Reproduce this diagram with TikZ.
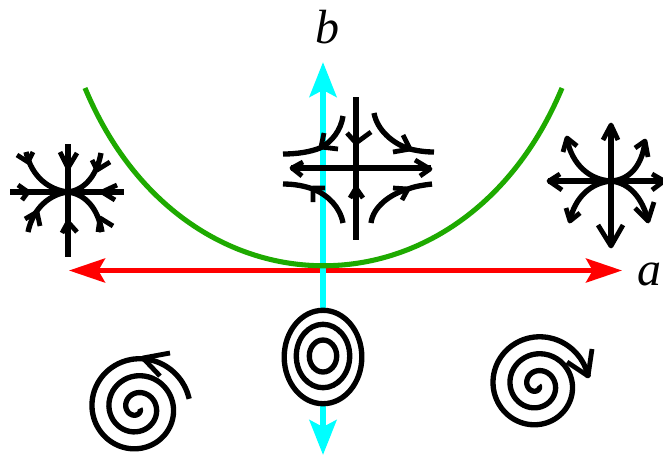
\documentclass[tikz,border=0pt]{standalone}
\usepackage{fontspec}
\setmainfont{Liberation Serif}
\usetikzlibrary{arrows.meta}
\definecolor{axisred}{RGB}{255,0,0}
\definecolor{axiscyan}{RGB}{0,255,255}
\definecolor{curvegreen}{RGB}{30,170,0}
\tikzset{
  traj/.style={line width=4pt,black,line cap=butt},
  headbarb/.style={line width=3.6pt,black,line cap=butt,line join=round},
  axislabel/.style={font=\itshape\fontsize{36}{36}\selectfont,inner sep=0pt,anchor=base},
}
\begin{document}
\begin{tikzpicture}[x=0.75pt,y=-0.75pt]
\useasboundingbox (0,0) rectangle (663,455);
% axes and the curve, in pixel coordinates of the reference
\draw[line width=3.6pt,axisred,{Stealth[length=27pt,width=18pt,inset=5pt]}-{Stealth[length=27pt,width=18pt,inset=5pt]}] (69,270.5) -- (622,270.5);
\draw[line width=5pt,axiscyan,{Stealth[length=26pt,width=20pt,inset=5pt]}-{Stealth[length=26pt,width=20pt,inset=5pt]}] (323,62) -- (323,455);
\draw[line width=3.8pt,curvegreen] (85,88) .. controls (183.5,325) and (463.5,325) .. (562,88);
\node[axislabel] (labelb) at (327,43.5) {b};
\node[axislabel] (labela) at (649,285) {a};
% left star
\draw[traj] (10,192) -- (124,192) (68,144) -- (68,257);
\draw[traj] (68,192) .. controls (50,190) and (32,178) .. (26,152);
\draw[traj] (68,192) .. controls (85,190) and (97,175) .. (101,153);
\draw[traj] (68,192) .. controls (50,194) and (33,208) .. (28,232);
\draw[traj] (68,192) .. controls (85,194) and (98,208) .. (102,232);
\draw[headbarb] (18,185) -- (28,192) -- (22,200) (117,185) -- (102,192) -- (115,200);
\draw[headbarb] (60,152) -- (68,168) -- (77,153) (62,233) -- (68,222) -- (77,232);
\draw[headbarb] (17,155) -- (28,162) -- (33,152) (110,162) -- (97,170) -- (92,160);
\draw[headbarb] (25,219) -- (37,212) -- (40,226) (113,226) -- (100,218) -- (98,232);
% right star
\draw[traj] (548,181) -- (663,181) (611,127) -- (611,246);
\draw[traj] (611,181) .. controls (590,180) and (572,165) .. (567,139);
\draw[traj] (611,181) .. controls (630,180) and (642,165) .. (645,142);
\draw[traj] (611,181) .. controls (590,183) and (575,198) .. (570,220);
\draw[traj] (611,181) .. controls (630,183) and (642,198) .. (648,220);
\draw[headbarb] (603,140) -- (611,125) -- (618,140) (598,225) -- (611,246) -- (623,225);
\draw[headbarb] (560,174) -- (549,181) -- (562,190) (652,174) -- (664,181) -- (652,190);
\draw[headbarb] (563,152) -- (567,138) -- (577,146) (635,148) -- (645,141) -- (648,157);
\draw[headbarb] (566,208) -- (570,221) -- (580,213) (635,208) -- (648,221) -- (654,202);
% saddle
\draw[traj] (356,97) -- (356,240) (291,168) -- (431,168);
\draw[headbarb] (347,133) -- (356,143) -- (371,132) (350,198) -- (356,188) -- (363,198);
\draw[headbarb] (303,162) -- (292,168) -- (302,176) (415,160) -- (430,169) -- (420,176);
\draw[traj] (343,116) .. controls (341,130) and (332,142) .. (320,148) .. controls (310,152) and (297,154) .. (283,154);
\draw[traj] (374,113) .. controls (377,130) and (393,144) .. (410,149) .. controls (418,151) and (426,152) .. (434,152);
\draw[traj] (343,223) .. controls (340,207) and (328,195) .. (313,189) .. controls (304,186) and (295,184) .. (283,184);
\draw[traj] (371,223) .. controls (373,207) and (390,194) .. (408,189) .. controls (416,186) and (424,185) .. (432,184);
\draw[headbarb] (324,133) -- (321,147) -- (338,149) (403,135) -- (410,149) -- (393,152);
\draw[headbarb] (325,188) -- (313,188) -- (313,202) (393,188) -- (408,189) -- (402,200);
% spirals and the ellipses
\draw[traj,domain=10:1070,samples=140,smooth] plot ({137+(53-(\x-10)/360*17)*cos(\x)},{408-(53-(\x-10)/360*17)*sin(\x)});
\draw[headbarb] (170,353) -- (143,358) -- (160,376);
\draw[traj,domain=1070:9,samples=140,smooth] plot ({537+(52-(\x-9)/360*17)*cos(\x)},{385-(52-(\x-9)/360*17)*sin(\x)});
\draw[headbarb] (592,349) -- (588,376) -- (567,362);
\draw[traj,fill=white] (323,357) ellipse (38.8 and 46.7);
\draw[traj] (323,356) ellipse (26.7 and 31.7);
\draw[traj] (323,356) ellipse (13.7 and 16);
\end{tikzpicture}
\end{document}
